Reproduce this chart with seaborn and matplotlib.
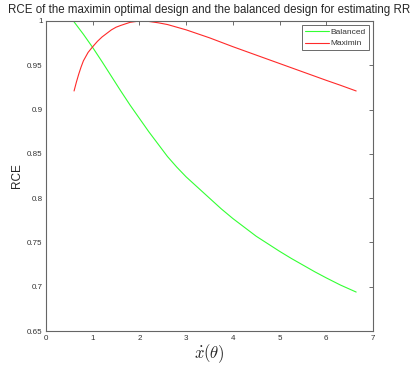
import numpy as np
import pandas as pd
import matplotlib
matplotlib.use("Agg")
import matplotlib.pyplot as plt
import seaborn as sns

# Relative efficiency curves against the derivative term
x_balanced = [0.6, 0.8, 1.0, 1.2, 1.4, 1.6, 1.8, 2.0, 2.2, 2.4, 2.6, 2.8, 3.0,
              3.25, 3.5, 3.75, 4.0, 4.25, 4.5, 4.75, 5.0, 5.25, 5.5, 5.75,
              6.0, 6.3, 6.64]
rce_balanced = [0.999, 0.985, 0.970, 0.954, 0.9375, 0.921, 0.905, 0.890, 0.875,
                0.861, 0.847, 0.835, 0.824, 0.812, 0.800, 0.788, 0.777, 0.767,
                0.757, 0.7485, 0.740, 0.732, 0.7245, 0.717, 0.710, 0.702, 0.694]

x_maximin = [0.6, 0.65, 0.7, 0.75, 0.8, 0.9, 1.0, 1.1, 1.2, 1.3, 1.4, 1.5, 1.6,
             1.8, 2.0, 2.2, 2.4, 2.6, 2.8, 3.0, 3.25, 3.5, 4.0, 4.5, 5.0, 5.5,
             6.0, 6.3, 6.64]
rce_maximin = [0.921, 0.931, 0.940, 0.948, 0.955, 0.9645, 0.971, 0.977, 0.982,
               0.986, 0.990, 0.993, 0.995, 0.9985, 1.000, 0.9995, 0.998, 0.996,
               0.993, 0.990, 0.9855, 0.981, 0.971, 0.9615, 0.952, 0.9425, 0.933,
               0.9275, 0.921]

series_names = ["Balanced", "Maximin"]
x_ticks = [0, 1, 2, 3, 4, 5, 6, 7]
x_tick_labels = ["0", "1", "2", "3", "4", "5", "6", "7"]
y_ticks = [0.65, 0.7, 0.75, 0.8, 0.85, 0.9, 0.95, 1.0]
y_tick_labels = ["0.65", "0.7", "0.75", "0.8", "0.85", "0.9", "0.95", "1"]

df = pd.concat([
    pd.DataFrame({"x": x_balanced, "rce": rce_balanced, "design": series_names[0]}),
    pd.DataFrame({"x": x_maximin, "rce": rce_maximin, "design": series_names[1]}),
], ignore_index=True)

sns.set_style("white")
plt.rcParams["font.family"] = ["Liberation Sans", "DejaVu Sans"]
plt.rcParams["mathtext.fontset"] = "cm"

fig = plt.figure(figsize=(4.11, 3.67), dpi=100)
ax = fig.add_axes([0.112, 0.098, 0.7955, 0.8448])

sns.lineplot(data=df, x="x", y="rce", hue="design", sort=False,
             palette={"Balanced": "#33ff33", "Maximin": "#ff2a2a"},
             linewidth=0.8, ax=ax, estimator=None)

ax.set_xlim(0, 7)
ax.set_ylim(0.65, 1.0)
ax.set_xticks(x_ticks)
ax.set_xticklabels(x_tick_labels)
ax.set_yticks(y_ticks)
ax.set_yticklabels(y_tick_labels)
ax.tick_params(direction="in", length=3, width=0.6, colors="#555555",
               labelcolor="#333333", labelsize=5.8, top=True, right=True,
               pad=2.5)
for sp in ax.spines.values():
    sp.set_visible(True)
    sp.set_color("#666666")
    sp.set_linewidth(0.8)

ax.set_xlabel(r"$\dot{x}(\theta)$", fontsize=12)
ax.xaxis.set_label_coords(0.5, -0.037)
ax.set_ylabel("RCE", fontsize=8.5)
ax.yaxis.set_label_coords(-0.07, 0.5)
fig.text(0.509, 0.973,
         "RCE of the maximin optimal design and the balanced design for estimating RR",
         fontsize=8.3, ha="center", va="center")

leg = ax.legend(loc="upper right", fontsize=6.0, frameon=True, fancybox=False,
                borderpad=0.35, handlelength=2.9, handletextpad=0.15,
                labelspacing=0.45, borderaxespad=0.5)
leg.get_frame().set_edgecolor("#444444")
leg.get_frame().set_linewidth(0.7)
for t in leg.get_texts():
    t.set_color("#333333")

fig.savefig("out.png", dpi=100)
